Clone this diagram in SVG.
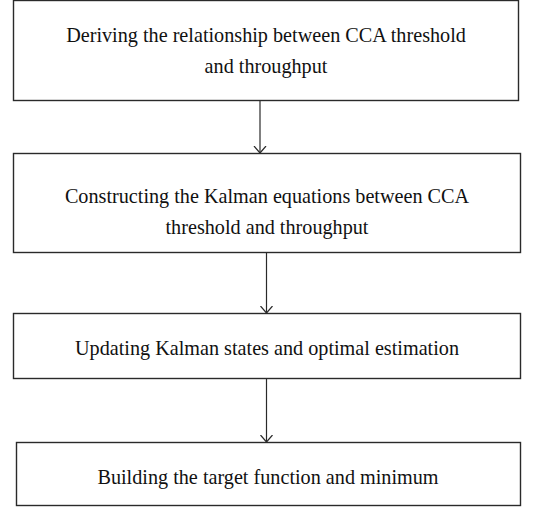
<svg xmlns="http://www.w3.org/2000/svg" width="546" height="507" viewBox="0 0 546 507">
  <style>
    .box { fill: #ffffff; stroke: #2a2a2a; stroke-width: 1.4; }
    .lbl { font-family: "Liberation Serif", "DejaVu Serif", serif; font-size: 20.2px; fill: #111111; text-anchor: middle; }
    .edge { stroke: #2a2a2a; stroke-width: 1.2; fill: none; }
  </style>
  <defs>
    <marker id="open-arrow" markerWidth="14" markerHeight="14" refX="7" refY="7" orient="auto" markerUnits="userSpaceOnUse">
      <path d="M0,1 L7,7 L0,13" fill="none" stroke="#2a2a2a" stroke-width="1.2"/>
    </marker>
  </defs>
  <rect width="546" height="507" fill="#ffffff"/>

  <g id="node-derive">
    <rect class="box" x="13.5" y="0.5" width="505" height="100"/>
    <text class="lbl" x="266" y="42">Deriving the relationship between CCA threshold</text>
    <text class="lbl" x="266" y="73">and throughput</text>
  </g>

  <g id="node-construct">
    <rect class="box" x="13.5" y="153.5" width="507" height="99"/>
    <text class="lbl" x="267" y="203">Constructing the Kalman equations between CCA</text>
    <text class="lbl" x="267" y="234">threshold and throughput</text>
  </g>

  <g id="node-update">
    <rect class="box" x="13.5" y="313.5" width="507" height="65"/>
    <text class="lbl" x="267" y="355">Updating Kalman states and optimal estimation</text>
  </g>

  <g id="node-build">
    <rect class="box" x="16.5" y="442.5" width="504" height="63"/>
    <text class="lbl" x="268" y="484">Building the target function and minimum</text>
  </g>

  <g id="connectors">
    <line class="edge" x1="260" y1="101" x2="260" y2="153" marker-end="url(#open-arrow)"/>
    <line class="edge" x1="266.5" y1="253" x2="266.5" y2="313" marker-end="url(#open-arrow)"/>
    <line class="edge" x1="266.5" y1="379" x2="266.5" y2="442" marker-end="url(#open-arrow)"/>
  </g>
</svg>
